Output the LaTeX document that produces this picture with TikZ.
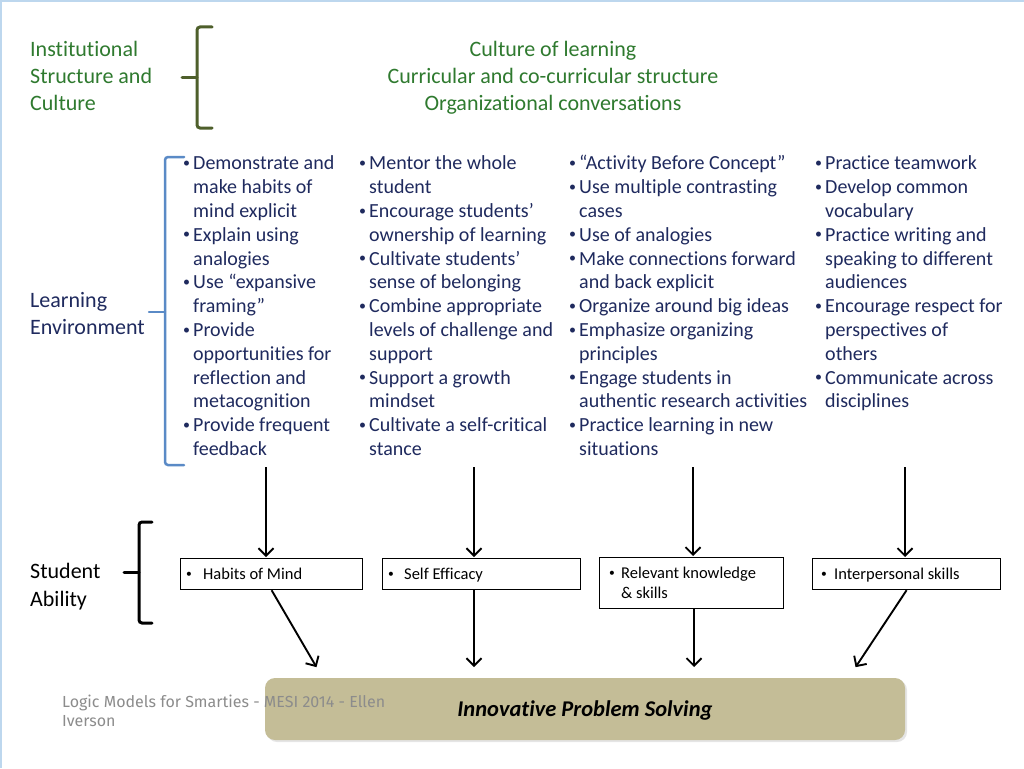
\documentclass[tikz,border=0pt]{standalone}
\usepackage{fontspec}
\setmainfont{Carlito}[Ligatures=NoCommon]
\newfontfamily\footfont{Fira Sans}
\usepackage{tikz}
\usetikzlibrary{positioning,arrows.meta,shadows}
\definecolor{navy}{HTML}{1F2A5E}
\definecolor{leaf}{HTML}{2F7A2F}
\definecolor{bracegreen}{HTML}{4E5F2B}
\definecolor{braceblue}{HTML}{5A8AC6}
\definecolor{tanbar}{HTML}{C4BD97}
\definecolor{footgray}{HTML}{8C8C8C}
\definecolor{slideedge}{HTML}{BDD7EE}
\newcommand{\bul}[1][11pt]{\makebox[#1][l]{\hspace{1pt}\raisebox{0.12em}{\scalebox{0.7}{\textbullet}}}}
\tikzset{
side/.style={anchor=north west, inner sep=0pt, font=\fontsize{22}{27}\selectfont}, % level names on the left
col/.style={anchor=north west, inner sep=0pt, text=navy, font=\fontsize{20}{23.8}\selectfont},
sbox/.style={draw, line width=1.2pt, anchor=north west, inner sep=0pt},
boxtext/.style={inner sep=0pt, yshift=-1.5pt, font=\fontsize{16.5}{20}\selectfont},
bar/.style={fill=tanbar, rounded corners=10pt, minimum width=640, minimum height=62,
  drop shadow={opacity=0.2, shadow xshift=2pt, shadow yshift=-2pt},
  font=\fontsize{22.5}{25}\selectfont\bfseries\itshape},
flow/.style={-{Straight Barb[length=7.5pt,width=15pt]}, line width=1.9pt, shorten >=1pt},
brace/.style={line width=3pt, rounded corners=3pt, line cap=round},
}

\begin{document}
\begin{tikzpicture}[x=1pt,y=-1pt]
   \useasboundingbox (0,0) rectangle (1024,768);
   \fill[white] (0,0) rectangle (1024,768);
   \draw[slideedge, line width=2pt] (1,768) -- (1,1) -- (1024,1);
   % institutional level
   \node[side, text=leaf] (inst) at (30,37) {\begin{tabular}{@{}l@{}}Institutional\\Structure and\\Culture\end{tabular}};
   \node[anchor=north, inner sep=0pt, text=leaf, font=\fontsize{22}{27}\selectfont] (culture) at (553,37)
     {\begin{tabular}{@{}c@{}}Culture of learning\\Curricular and co-curricular structure\\Organizational conversations\end{tabular}};
   \draw[brace, bracegreen] (212,27) -- (197,27) -- (197,128) -- (212,128);
   \draw[brace, bracegreen] (197,77) -- (182,77);
   % learning environment
   \node[side, text=navy] (learn) at (30,288) {\begin{tabular}{@{}l@{}}Learning\\Environment\end{tabular}};
   \draw[brace, braceblue, line width=2.5pt] (184,157) -- (165,157) -- (165,465) -- (184,465);
   \draw[brace, braceblue, line width=2.5pt] (165,312) -- (149,312);
   \node[col] (col_1) at (182,153) {\begin{tabular}{@{}l@{}l@{}}
     \bul & Demonstrate and\\ & make habits of\\ & mind explicit\\
     \bul & Explain using\\ & analogies\\
     \bul & Use “expansive\\ & framing”\\
     \bul & Provide\\ & opportunities for\\ & reflection and\\ & metacognition\\
     \bul & Provide frequent\\ & feedback\end{tabular}};
   \node[col] (col_2) at (358,153) {\begin{tabular}{@{}l@{}l@{}}
     \bul & Mentor the whole\\ & student\\
     \bul & Encourage students’\\ & ownership of learning\\
     \bul & Cultivate students’\\ & sense of belonging\\
     \bul & Combine appropriate\\ & levels of challenge and\\ & support\\
     \bul & Support a growth\\ & mindset\\
     \bul & Cultivate a self-critical\\ & stance\end{tabular}};
   \node[col] (col_3) at (568,153) {\begin{tabular}{@{}l@{}l@{}}
     \bul & “Activity Before Concept”\\
     \bul & Use multiple contrasting\\ & cases\\
     \bul & Use of analogies\\
     \bul & Make connections forward\\ & and back explicit\\
     \bul & Organize around big ideas\\
     \bul & Emphasize organizing\\ & principles\\
     \bul & Engage students in\\ & authentic research activities\\
     \bul & Practice learning in new\\ & situations\end{tabular}};
   \node[col] (col_4) at (814,153) {\begin{tabular}{@{}l@{}l@{}}
     \bul & Practice teamwork\\
     \bul & Develop common\\ & vocabulary\\
     \bul & Practice writing and\\ & speaking to different\\ & audiences\\
     \bul & Encourage respect for\\ & perspectives of\\ & others\\
     \bul & Communicate across\\ & disciplines\end{tabular}};
   % student ability
   \node[side, font=\fontsize{22}{28}\selectfont] (stud) at (30,558.4) {\begin{tabular}{@{}l@{}}Student\\Ability\end{tabular}};
   \draw[brace] (152,522) -- (139,522) -- (139,623) -- (152,623);
   \draw[brace] (139,572) -- (124,572);
   \node[sbox, minimum width=182, minimum height=31] (box_1) at (180,558) {};
   \node[sbox, minimum width=198, minimum height=31] (box_2) at (382,558) {};
   \node[sbox, minimum width=184, minimum height=51] (box_3) at (599,557) {};
   \node[sbox, minimum width=188, minimum height=31] (box_4) at (812,558) {};
   \node[boxtext, right=5pt of box_1.west] (hab) {\begin{tabular}{@{}l@{}l@{}}\bul[18pt] & Habits of Mind\end{tabular}};
   \node[boxtext, right=5pt of box_2.west] (eff) {\begin{tabular}{@{}l@{}l@{}}\bul[17pt] & Self Efficacy\end{tabular}};
   \node[boxtext, right=9pt of box_3.west] (know) {\begin{tabular}{@{}l@{}l@{}}\bul[13pt] & Relevant knowledge\\ & \& skills\end{tabular}};
   \node[boxtext, right=8pt of box_4.west] (inter) {\begin{tabular}{@{}l@{}l@{}}\bul[14pt] & Interpersonal skills\end{tabular}};
   % outcome
   \node[bar] (bar) at (585,709) {\raisebox{-7pt}[0pt][0pt]{Innovative Problem Solving}};
   \node[anchor=north west, inner sep=0pt, align=left, text=footgray, font=\footfont\fontsize{16}{19}\selectfont] (foot) at (62,695)
     {Logic Models for Smarties - MESI 2014 - Ellen\\Iverson};
   \coordinate (a_1) at (266,467);
   \coordinate (a_2) at (474,467);
   \coordinate (a_3) at (693,467);
   \coordinate (a_4) at (905,467);
   \coordinate (t_1) at (317,668);
   \coordinate (t_2) at (474,668);
   \coordinate (t_3) at (694,668);
   \coordinate (t_4) at (855,668);
    \path[flow]
    (a_1) edge (box_1.north -| a_1)
    (a_2) edge (box_2.north -| a_2)
    (a_3) edge (box_3.north -| a_3)
    (a_4) edge (box_4.north -| a_4)
    (box_1.south) edge (t_1)
    (box_2.south -| t_2) edge (t_2)
    (box_3.south -| t_3) edge (t_3)
    (box_4.south) edge (t_4);
\end{tikzpicture}
\end{document}
